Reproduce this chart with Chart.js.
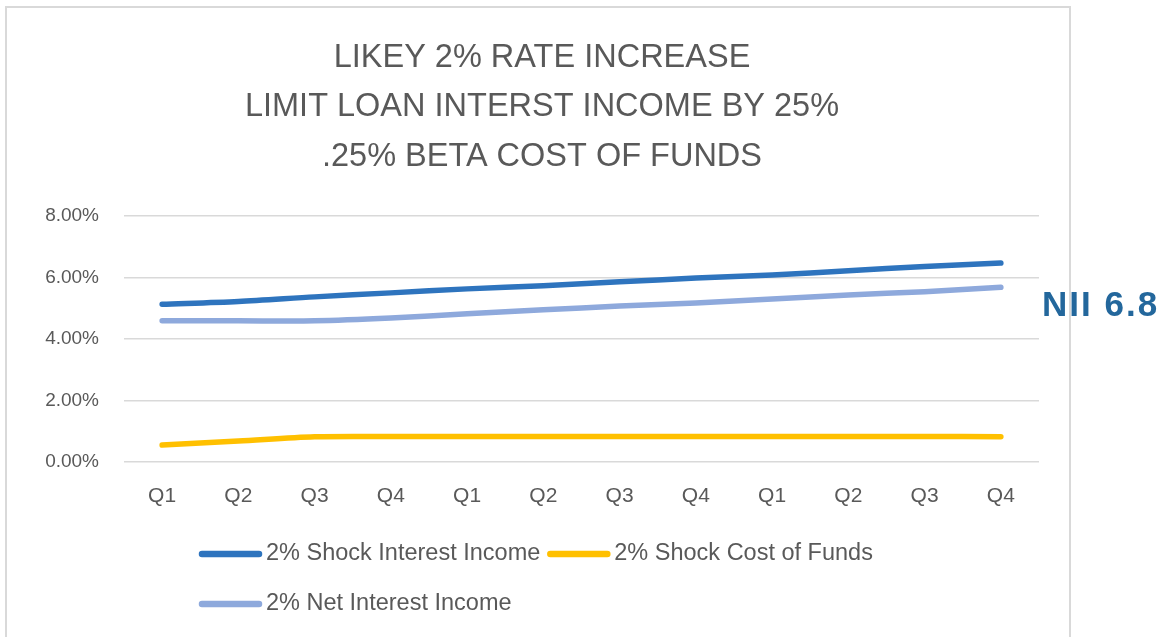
<!DOCTYPE html>
<html>
<head>
<meta charset="utf-8">
<script src="https://cdn.jsdelivr.net/npm/chart.js@4"></script>
<style>
  html, body { margin: 0; padding: 0; background: #fff; }
  #wrap { position: relative; width: 1174px; height: 637px; overflow: hidden; }
  #chart { position: absolute; left: 0; top: 0; }
  #nii {
    position: absolute; left: 1042px; top: 286px;
    font: bold 35px "Liberation Sans", Arial, sans-serif;
    line-height: 35px; letter-spacing: 2px; color: #23679C;
  }
</style>
</head>
<body>
<div id="wrap">
  <canvas id="chart" width="1174" height="637"></canvas>
  <div id="nii">NII 6.8</div>
</div>
<script>
const quarters = ["Q1","Q2","Q3","Q4","Q1","Q2","Q3","Q4","Q1","Q2","Q3","Q4"];
const shockInterestIncome = [5.13, 5.22, 5.37, 5.50, 5.63, 5.73, 5.86, 5.98, 6.08, 6.22, 6.36, 6.47];
const shockCostOfFunds    = [0.55, 0.68, 0.82, 0.83, 0.83, 0.83, 0.83, 0.83, 0.83, 0.83, 0.83, 0.82];
const netInterestIncome   = [4.59, 4.59, 4.59, 4.68, 4.82, 4.95, 5.07, 5.17, 5.30, 5.43, 5.54, 5.68];
const titleLines = ["LIKEY 2% RATE INCREASE", "LIMIT LOAN INTERST INCOME BY 25%", ".25% BETA COST OF FUNDS"];

const FONT = '"Liberation Sans", Arial, sans-serif';
const GREY = '#595959';

// frame round the chart (Excel chart border)
const framePlugin = {
  id: 'frame',
  beforeDraw(chart) {
    const ctx = chart.ctx;
    ctx.save();
    ctx.strokeStyle = '#D9D9D9';
    ctx.lineWidth = 2;
    ctx.strokeRect(6, 7, 1064, 700);
    ctx.restore();
  }
};

// Excel-style legend: rows left aligned in one block
const legendPlugin = {
  id: 'xlLegend',
  afterDraw(chart) {
    const ctx = chart.ctx;
    const ds = chart.data.datasets;
    const rows = [[ds[0], ds[1]], [ds[2]]];
    const rowY = [554, 604];
    ctx.save();
    ctx.font = '23.5px ' + FONT;
    ctx.textBaseline = 'middle';
    ctx.lineCap = 'round';
    rows.forEach((row, r) => {
      let x = 199;
      row.forEach(d => {
        ctx.strokeStyle = d.borderColor;
        ctx.lineWidth = 6.5;
        ctx.beginPath();
        ctx.moveTo(x + 3, rowY[r]);
        ctx.lineTo(x + 60, rowY[r]);
        ctx.stroke();
        ctx.fillStyle = GREY;
        ctx.fillText(d.label, x + 67, rowY[r]);
        x += 67 + ctx.measureText(d.label).width + 7;
      });
    });
    ctx.restore();
  }
};

const canvas = document.querySelector('#chart');

new Chart(canvas, {
  type: 'line',
  data: {
    labels: quarters,
    datasets: [
      { label: '2% Shock Interest Income', data: shockInterestIncome, borderColor: '#2E74BE' },
      { label: '2% Shock Cost of Funds', data: shockCostOfFunds, borderColor: '#FFC000' },
      { label: '2% Net Interest Income', data: netInterestIncome, borderColor: '#8EA9DC' }
    ]
  },
  options: {
    responsive: false,
    animation: false,
    layout: { padding: { left: 45, right: 135, top: 0, bottom: 125 } },
    elements: {
      line: { borderWidth: 5.5, tension: 0.3, borderCapStyle: 'round', fill: false },
      point: { radius: 0, hoverRadius: 0 }
    },
    plugins: {
      legend: { display: false },
      tooltip: { enabled: false },
      title: {
        display: true,
        text: titleLines,
        color: GREY,
        font: { family: FONT, size: 32.5, weight: 'normal', lineHeight: '49.5px' },
        padding: { top: 33, bottom: 34.5 }
      }
    },
    scales: {
      x: {
        offset: true,
        grid: { display: false, drawTicks: false },
        border: { display: false },
        ticks: { color: GREY, font: { family: FONT, size: 21 }, padding: 22, maxRotation: 0 },
        afterFit(scale) { scale.height = 50; }
      },
      y: {
        min: 0,
        max: 8,
        ticks: {
          stepSize: 2,
          color: GREY,
          font: { family: FONT, size: 19 },
          padding: 25,
          callback: v => v.toFixed(2) + '%'
        },
        grid: { color: '#D9D9D9', lineWidth: 1.5, drawTicks: false },
        border: { display: false },
        afterFit(scale) { scale.width = 79; }
      }
    }
  },
  plugins: [framePlugin, legendPlugin]
});
</script>
</body>
</html>
